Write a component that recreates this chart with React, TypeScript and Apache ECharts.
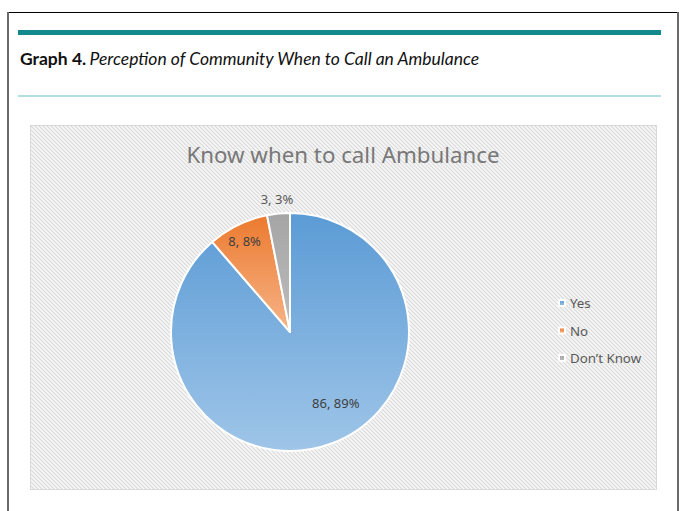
import React, { useEffect, useRef } from "react";
import * as echarts from "echarts";

const categories = ["Yes", "No", "Don\u2019t Know"];
const counts = [86, 8, 3];
const chartTitle = "Know when to call Ambulance";
const figureLabel = "Graph 4.";
const figureCaption = "Perception of Community When to Call an Ambulance";

const sliceColors = [
  ["#5b9bd5", "#9fc5e8"],
  ["#ec7a2f", "#f6b488"],
  ["#a5a5a5", "#bdbdbd"],
];
const labelShift = [
  [24, 12],
  [-18, -35],
  [-7, -71],
];

const hatchTile =
  "url(\"data:image/svg+xml;utf8,<svg xmlns='http://www.w3.org/2000/svg' width='4' height='4'><rect width='4' height='4' fill='%23f7f7f7'/><path d='M-1,-1 L5,5 M-1,3 L1,5 M3,-1 L5,1' stroke='%23d9d9d9' stroke-width='1.1'/></svg>\")";

export default function App() {
  const ref = useRef<HTMLDivElement>(null);
  useEffect(() => {
    if (!ref.current) return;
    const chart = echarts.init(ref.current, null, { renderer: "svg" });
    const grad = (c: string[]) =>
      new echarts.graphic.LinearGradient(0, 0, 0, 1, [
        { offset: 0, color: c[0] },
        { offset: 1, color: c[1] },
      ]);
    chart.setOption({
      animation: false,
      backgroundColor: "transparent",
      graphic: [
        { type: "line", shape: { x1: 8, y1: 12.5, x2: 678, y2: 12.5 }, style: { stroke: "#000", lineWidth: 1 } },
        { type: "line", shape: { x1: 8, y1: 12, x2: 8, y2: 511 }, style: { stroke: "#6a6a6a", lineWidth: 2 } },
        { type: "line", shape: { x1: 678, y1: 12, x2: 678, y2: 511 }, style: { stroke: "#6a6a6a", lineWidth: 2 } },
        { type: "rect", shape: { x: 18, y: 30, width: 643, height: 5 }, style: { fill: "#12898d" } },
        { type: "line", shape: { x1: 18, y1: 96, x2: 661, y2: 96 }, style: { stroke: "#6bbfc3", lineWidth: 1.2 } },
        {
          type: "text",
          x: 20,
          y: 58,
          style: {
            text: "{b|" + figureLabel + "} {i|" + figureCaption + "}",
            verticalAlign: "middle",
            rich: {
              b: { fontFamily: "Lato", fontWeight: "bold", fontSize: 17.5, fill: "#111" },
              i: { fontFamily: "Lato", fontStyle: "italic", fontSize: 17.5, fill: "#111" },
            },
          },
        },
        {
          type: "text",
          x: 343,
          y: 154,
          style: {
            text: chartTitle,
            align: "center",
            verticalAlign: "middle",
            fontFamily: "Noto Sans",
            fontSize: 22.3,
            fill: "#787878",
          },
        },
      ],
      legend: {
        orient: "vertical",
        left: 553,
        top: 291,
        icon: "rect",
        itemWidth: 6,
        itemHeight: 6,
        itemGap: 13.5,
        textStyle: { fontFamily: "Noto Sans", fontSize: 13.3, color: "#595959", lineHeight: 14 },
        data: categories,
      },
      series: [
        {
          type: "pie",
          center: [290, 332],
          radius: 119,
          startAngle: 90,
          clockwise: true,
          percentPrecision: 0,
          itemStyle: { borderColor: "#fff", borderWidth: 2 },
          label: {
            position: "inside",
            formatter: "{c}, {d}%",
            fontFamily: "Noto Sans",
            fontSize: 13,
            color: "#404040",
          },
          labelLine: { show: false },
          labelLayout: (p: any) => ({ dx: labelShift[p.dataIndex][0], dy: labelShift[p.dataIndex][1] }),
          emphasis: { disabled: true },
          data: categories.map((name, i) => ({
            name,
            value: counts[i],
            itemStyle: { color: grad(sliceColors[i]) },
            label: i === 2 ? { color: "#595959" } : undefined,
          })),
        },
      ],
    });
    return () => chart.dispose();
  }, []);

  return (
    <div style={{ position: "absolute", left: 0, top: 0, width: 681, height: 511, background: "#fff" }}>
      <div
        style={{
          position: "absolute",
          left: 30,
          top: 125,
          width: 625,
          height: 363,
          border: "1px solid #d9d9d9",
          backgroundImage: hatchTile,
          backgroundSize: "4px 4px",
        }}
      />
      <div ref={ref} style={{ position: "absolute", left: 0, top: 0, width: 681, height: 511 }} />
    </div>
  );
}
